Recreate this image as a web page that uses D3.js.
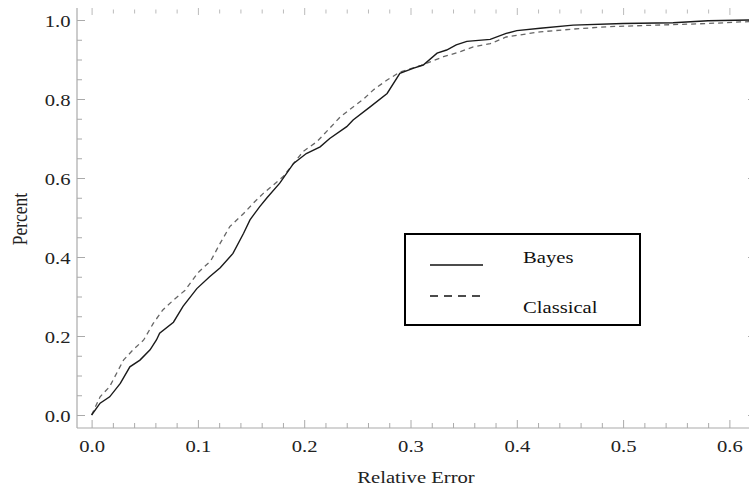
<!DOCTYPE html>
<html>
<head>
<meta charset="utf-8">
<script src="https://cdn.jsdelivr.net/npm/d3@7"></script>
<style>
  html, body { margin: 0; padding: 0; background: #fff; }
  svg { display: block; }
  text { font-family: "Liberation Serif", "Times New Roman", serif; }
</style>
</head>
<body>
<svg id="chart" width="749" height="491"></svg>
<script>
// Empirical CDF of relative error, Bayes estimator
const bayesErr = [0, 0.008, 0.017, 0.027, 0.036, 0.0455, 0.055, 0.061, 0.064, 0.077, 0.086, 0.099,
  0.111, 0.121, 0.133, 0.143, 0.149, 0.158, 0.165, 0.177, 0.19, 0.202, 0.215, 0.224, 0.24,
  0.246, 0.262, 0.278, 0.29, 0.303, 0.312, 0.325, 0.334, 0.343, 0.353, 0.375, 0.39, 0.40,
  0.422, 0.453, 0.5, 0.547, 0.58, 0.62];
const bayesPct = [0, 0.03, 0.046, 0.08, 0.122, 0.139, 0.165, 0.19, 0.207, 0.235, 0.275, 0.32,
  0.35, 0.373, 0.409, 0.46, 0.494, 0.527, 0.55, 0.587, 0.637, 0.662, 0.679, 0.70, 0.73,
  0.747, 0.78, 0.814, 0.865, 0.878, 0.886, 0.916, 0.924, 0.937, 0.946, 0.951, 0.966, 0.973,
  0.979, 0.987, 0.991, 0.993, 0.998, 1.0];

// Empirical CDF of relative error, classical estimator
const classicalErr = [0, 0.008, 0.017, 0.03, 0.039, 0.049, 0.058, 0.067, 0.077, 0.088, 0.1,
  0.112, 0.121, 0.13, 0.143, 0.152, 0.1615, 0.18, 0.199, 0.212, 0.224, 0.234, 0.246, 0.256,
  0.265, 0.278, 0.29, 0.31, 0.331, 0.347, 0.359, 0.375, 0.39, 0.422, 0.453, 0.485, 0.531,
  0.579, 0.61, 0.62];
const classicalPct = [0, 0.046, 0.072, 0.139, 0.165, 0.19, 0.232, 0.266, 0.291, 0.316, 0.36,
  0.39, 0.435, 0.477, 0.51, 0.536, 0.561, 0.603, 0.667, 0.692, 0.726, 0.755, 0.78, 0.80,
  0.823, 0.848, 0.868, 0.885, 0.907, 0.92, 0.932, 0.94, 0.957, 0.97, 0.977, 0.983, 0.987,
  0.991, 0.995, 0.996];

const xTickValues = [0, 0.1, 0.2, 0.3, 0.4, 0.5, 0.6];
const xTickLabels = ["0.0", "0.1", "0.2", "0.3", "0.4", "0.5", "0.6"];
const yTickValues = [0, 0.2, 0.4, 0.6, 0.8, 1.0];
const yTickLabels = ["0.0", "0.2", "0.4", "0.6", "0.8", "1.0"];

const seriesNames = ["Bayes", "Classical"];
const xTitle = "Relative Error";
const yTitle = "Percent";

// ---- layout ----
const svg = d3.select("#chart");
const frame = { left: 77, right: 760, top: 8, bottom: 428 };
const stretch = 1.18;          // horizontal text stretch
const fontSize = 17.5;
const axisColor = "#aaaaaa";
const labelColor = "#222222";

// x: 0 at 91.6px, 0.1 per 106.3px ; y: 0 at 415px, 1 at 20px
const x = d3.scaleLinear().domain([0, 0.6]).range([91.6, 91.6 + 6 * 106.3]);
const y = d3.scaleLinear().domain([0, 1]).range([415, 20]);

const xMinor = d3.range(0, 0.64, 0.02).filter(v => Math.abs(v * 10 - Math.round(v * 10)) > 1e-6);
const yMinor = d3.range(0, 1.03, 0.05).filter(v => Math.abs(v * 5 - Math.round(v * 5)) > 1e-6);

function styleAxis(g) {
  g.selectAll("path.domain").remove();
  g.selectAll("line").attr("stroke", axisColor).attr("stroke-width", 1);
}

// bottom axis
const gBottom = svg.append("g").attr("transform", `translate(0,${frame.bottom})`);
gBottom.append("line").attr("x1", frame.left).attr("x2", 749).attr("y1", 0).attr("y2", 0)
  .attr("stroke", axisColor).attr("stroke-width", 1.2);
gBottom.append("g")
  .call(d3.axisBottom(x).tickValues(xMinor).tickSize(-5).tickFormat(""))
  .call(styleAxis);
gBottom.append("g")
  .call(d3.axisBottom(x).tickValues(xTickValues).tickSize(-8)
    .tickFormat((d, i) => xTickLabels[i]).tickPadding(0))
  .call(styleAxis)
  .call(g => g.selectAll("text")
    .attr("y", 24).attr("dy", null)
    .attr("transform", `scale(${stretch},1)`)
    .attr("fill", labelColor)
    .style("font-size", fontSize + "px")
    .style("font-family", "'Liberation Serif', serif"));

// top ticks (no line)
const gTop = svg.append("g").attr("transform", `translate(0,${frame.top})`);
gTop.append("g")
  .call(d3.axisTop(x).tickValues(xMinor).tickSize(-4).tickFormat(""))
  .call(styleAxis)
  .call(g => g.selectAll("line").attr("stroke", "#bbbbbb").attr("transform", "translate(0,1.5)"));
gTop.append("g")
  .call(d3.axisTop(x).tickValues(xTickValues).tickSize(-7).tickFormat(""))
  .call(styleAxis)
  .call(g => g.selectAll("line").attr("stroke", "#bbbbbb"));

// left axis
const gLeft = svg.append("g").attr("transform", `translate(${frame.left},0)`);
gLeft.append("line").attr("x1", 0).attr("x2", 0).attr("y1", frame.top).attr("y2", frame.bottom)
  .attr("stroke", axisColor).attr("stroke-width", 1.2);
gLeft.append("g")
  .call(d3.axisLeft(y).tickValues(yMinor).tickSize(-5).tickFormat(""))
  .call(styleAxis);
gLeft.append("g")
  .call(d3.axisLeft(y).tickValues(yTickValues).tickSize(-8)
    .tickFormat((d, i) => yTickLabels[i]).tickPadding(0))
  .call(styleAxis)
  .call(g => g.selectAll("text")
    .attr("x", -6.5 / stretch).attr("dy", "0.37em")
    .attr("text-anchor", "end")
    .attr("transform", `scale(${stretch},1)`)
    .attr("fill", labelColor)
    .style("font-size", fontSize + "px")
    .style("font-family", "'Liberation Serif', serif"));

// right-side frame ticks, just reaching into view
const gRight = svg.append("g").attr("transform", `translate(756,0)`);
gRight.append("g")
  .call(d3.axisRight(y).tickValues(yTickValues).tickSize(-8).tickFormat(""))
  .call(styleAxis);

// axis titles
svg.append("text")
  .attr("transform", `translate(416,483) scale(${stretch},1)`)
  .attr("text-anchor", "middle")
  .attr("fill", labelColor)
  .style("font-size", fontSize + "px")
  .text(xTitle);

svg.append("text")
  .attr("transform", `translate(26.5,219) scale(${stretch},1) rotate(-90)`)
  .attr("text-anchor", "middle")
  .attr("fill", labelColor)
  .style("font-size", fontSize + "px")
  .text(yTitle);

// curves
svg.append("clipPath").attr("id", "plotClip")
  .append("rect").attr("x", frame.left).attr("y", frame.top)
  .attr("width", 749 - frame.left).attr("height", frame.bottom - frame.top);

const line = d3.line().x(d => x(d[0])).y(d => y(d[1]));
const classicalData = d3.zip(classicalErr, classicalPct);
const bayesData = d3.zip(bayesErr, bayesPct);

const plot = svg.append("g").attr("clip-path", "url(#plotClip)");
plot.append("path")
  .datum(classicalData)
  .attr("d", line)
  .attr("fill", "none")
  .attr("stroke", "#666666")
  .attr("stroke-width", 1.3)
  .attr("stroke-dasharray", "5,4");
plot.append("path")
  .datum(bayesData)
  .attr("d", line)
  .attr("fill", "none")
  .attr("stroke", "#1a1a1a")
  .attr("stroke-width", 1.4);

// legend
const legend = svg.append("g");
legend.append("rect")
  .attr("x", 405).attr("y", 234).attr("width", 235).attr("height", 91)
  .attr("fill", "#fff").attr("stroke", "#000").attr("stroke-width", 2);
const legendRows = [
  { name: seriesNames[0], dash: null, lineY: 265, textY: 263 },
  { name: seriesNames[1], dash: "8,6", lineY: 296, textY: 313 }
];
legendRows.forEach(r => {
  legend.append("line")
    .attr("x1", 430).attr("x2", 483).attr("y1", r.lineY).attr("y2", r.lineY)
    .attr("stroke", "#111").attr("stroke-width", 1.6)
    .attr("stroke-dasharray", r.dash);
  legend.append("text")
    .attr("transform", `translate(523,${r.textY}) scale(${stretch},1)`)
    .attr("fill", "#111")
    .style("font-size", fontSize + "px")
    .text(r.name);
});
</script>
</body>
</html>
